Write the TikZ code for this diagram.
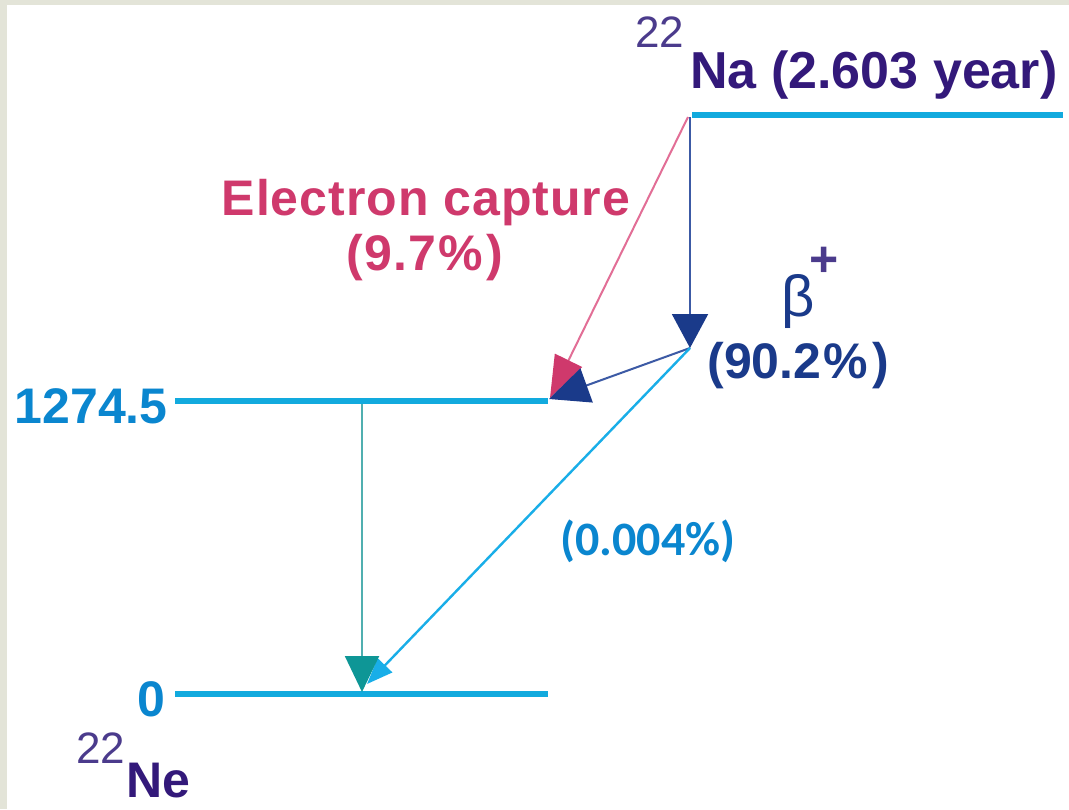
\documentclass[tikz,border=0pt]{standalone}
\usepackage{fontspec}
\setmainfont{Liberation Sans}
\newfontfamily\spacedfont[LetterSpace=2]{Liberation Sans}
\newfontfamily\calibfont{Carlito}
\usetikzlibrary{arrows.meta}

\definecolor{levelblue}{RGB}{18,170,222}
\definecolor{labelblue}{RGB}{10,134,207}
\definecolor{nucpurple}{RGB}{51,25,122}
\definecolor{suppurple}{RGB}{75,59,140}
\definecolor{ecpink}{RGB}{207,57,108}
\definecolor{ecline}{RGB}{226,110,150}
\definecolor{betanavy}{RGB}{26,58,138}
\definecolor{betaline}{RGB}{60,90,165}
\definecolor{rarecyan}{RGB}{25,174,232}
\definecolor{gammateal}{RGB}{14,150,150}
\definecolor{gammaline}{RGB}{80,175,176}
\definecolor{framegray}{RGB}{227,228,216}

\begin{document}
\begin{tikzpicture}[x=0.5pt,y=-0.5pt,
  level/.style={draw=levelblue,line width=3pt},
  bigtxt/.style={inner sep=0pt,font=\fontsize{25}{25}\selectfont\bfseries},
  suptxt/.style={inner sep=0pt,font=\fontsize{22}{22}\selectfont,text=suppurple}
]

% frame
\fill[framegray] (0,0) rectangle (1069,809);
\fill[white] (7,5) rectangle (1069,809);
\useasboundingbox (0,0) rectangle (1069,809);

% levels
\draw[level] (692,115) -- (1063,115);
\draw[level] (175,401) -- (548,401);
\draw[level] (175,694) -- (548,694);

\coordinate (na) at (690,117);
\coordinate (betatip) at (690,348);
\coordinate (ecend) at (550,398);
\coordinate (midend) at (549,399);
\coordinate (gstart) at (362,404);
\coordinate (gend) at (362,692);
\coordinate (rareend) at (367,684);

% transitions
\draw[ecline,line width=1pt,-{Triangle[length=21pt,width=15pt,color=ecpink]}] (688,117) -- (ecend);
\draw[betaline,line width=1pt,-{Triangle[length=17pt,width=18pt,color=betanavy]}] (na) -- (betatip);
\draw[betaline,line width=1pt,-{Triangle[length=20pt,width=18pt,color=betanavy]}] (betatip) -- (midend);
\draw[rarecyan,line width=1.2pt,-{Triangle[length=13pt,width=10pt]}] (betatip) -- (rareend);
\draw[gammaline,line width=1pt,-{Triangle[length=18pt,width=17pt,color=gammateal]}] (gstart) -- (gend);

% labels
\node[suptxt,anchor=base west] (nasup) at (635,47) {22};
\node[bigtxt,text=nucpurple,anchor=base west,font=\fontsize{26}{26}\selectfont\bfseries] (natext) at (690,88) {Na (2.603 year)};
\node[bigtxt,text=ecpink,anchor=base,font=\fontsize{25}{25}\selectfont\bfseries\spacedfont] (ec) at (426,215) {Electron capture};
\node[bigtxt,text=ecpink,anchor=base,font=\fontsize{25}{25}\selectfont\bfseries\spacedfont] (ecp) at (425,270) {(9.7\hspace{1pt}\%\hspace{2pt})};
\node[inner sep=0pt,text=betanavy,anchor=base west,font=\fontsize{29}{29}\selectfont] (beta) at (781,316) {β};
\node[bigtxt,text=suppurple,anchor=center] (plus) at (824,262) {+};
\node[bigtxt,text=betanavy,anchor=base west] (betap) at (707,378) {(90.2\hspace{1pt}\%\hspace{2.5pt})};
\node[inner sep=0pt,text=labelblue,anchor=center,font=\fontsize{24}{24}\selectfont\bfseries\calibfont] (rarep) at (648,541) {(0.004\%)};
\node[bigtxt,text=labelblue,anchor=base east] (hi) at (168,423) {1274.5};
\node[bigtxt,text=labelblue,anchor=base west] (zero) at (137,716) {0};
\node[suptxt,anchor=base west] (nesup) at (76,763) {22};
\node[bigtxt,text=nucpurple,anchor=base west] (ne) at (126,797) {Ne};

\end{tikzpicture}
\end{document}
